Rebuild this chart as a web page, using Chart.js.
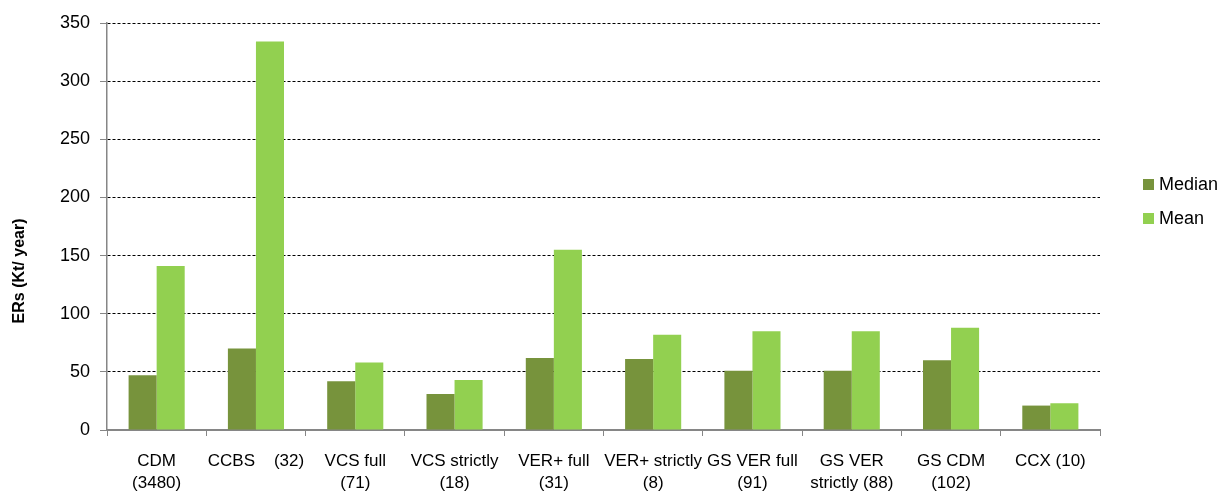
<!DOCTYPE html>
<html>
<head>
<meta charset="utf-8">
<script src="https://cdn.jsdelivr.net/npm/chart.js@4/dist/chart.umd.min.js"></script>
<style>
  body { margin: 0; background: #fff; }
  #wrap { position: relative; width: 1220px; height: 493px; }
  #legend { position: absolute; left: 1143px; top: 167px; font-family: "Liberation Sans", Arial, sans-serif; font-size: 18px; color: #000; }
  #legend div { height: 34px; display: flex; align-items: center; }
  #legend span.box { display: inline-block; width: 11px; height: 11px; margin-right: 5px; }
</style>
</head>
<body>
<div id="wrap">
  <canvas id="c1" width="1220" height="493"></canvas>
  <div id="legend"></div>
</div>
<script>
// =========================
// DADOS
// =========================
const categorias = [
    ["CDM", "(3480)"],
    "CCBS    (32)",
    ["VCS full", "(71)"],
    ["VCS strictly", "(18)"],
    ["VER+ full", "(31)"],
    ["VER+ strictly", "(8)"],
    ["GS VER full", "(91)"],
    ["GS VER", "strictly (88)"],
    ["GS CDM", "(102)"],
    "CCX (10)"
];
const mediana = [47, 70, 42, 31, 62, 61, 51, 51, 60, 21];
const media = [141, 334, 58, 43, 155, 82, 85, 85, 88, 23];
const yTicks = [0, 50, 100, 150, 200, 250, 300, 350];

const FONT = "'Liberation Sans', Arial, sans-serif";

// =========================
// GRÁFICO
// =========================
const ctx1 = document.getElementById("c1").getContext("2d");

const chart1 = new Chart(ctx1, {
    type: "bar",
    data: {
        labels: categorias,
        datasets: [
            { label: "Median", data: mediana, backgroundColor: "#77933C" },
            { label: "Mean", data: media, backgroundColor: "#92D050" }
        ]
    },
    options: {
        responsive: false,
        animation: false,
        categoryPercentage: 0.565,
        barPercentage: 1.0,
        layout: { padding: { top: 23, right: 120, left: 0, bottom: 0 } },
        plugins: {
            legend: { display: false },
            tooltip: { enabled: false }
        },
        scales: {
            x: {
                afterFit: s => { s.height = 63; },
                grid: {
                    display: true,
                    drawOnChartArea: false,
                    drawTicks: true,
                    tickLength: 6,
                    color: "#868686"
                },
                border: { display: true, color: "#868686", width: 2 },
                ticks: {
                    color: "#000",
                    padding: 14,
                    maxRotation: 0,
                    minRotation: 0,
                    autoSkip: false,
                    font: { family: FONT, size: 17, lineHeight: 1.3 }
                }
            },
            y: {
                min: 0,
                max: 350,
                afterFit: s => { s.width = 107; },
                afterBuildTicks: s => { s.ticks = yTicks.map(v => ({ value: v })); },
                grid: {
                    color: c => (c.tick && c.tick.value === 0) ? "rgba(0,0,0,0)" : "#000",
                    tickColor: "#868686",
                    tickLength: 7,
                    lineWidth: 1
                },
                border: { display: true, color: "#868686", width: 1.5, dash: [3, 2] },
                ticks: {
                    color: "#000",
                    padding: 10,
                    font: { family: FONT, size: 18 }
                },
                title: {
                    display: true,
                    // espaços no fim empurram o texto para baixo (como no original)
                    text: "ERs (Kt/ year)" + " ".repeat(20),
                    color: "#000",
                    padding: { top: 10, bottom: 0 },
                    font: { family: FONT, size: 16, weight: "bold" }
                }
            }
        }
    }
});

// =========================
// LEGENDA
// =========================
const legendEl = document.getElementById("legend");
chart1.data.datasets.forEach(ds => {
    const row = document.createElement("div");
    row.innerHTML = `<span class="box" style="background:${ds.backgroundColor}"></span>${ds.label}`;
    legendEl.appendChild(row);
});
</script>
</body>
</html>
